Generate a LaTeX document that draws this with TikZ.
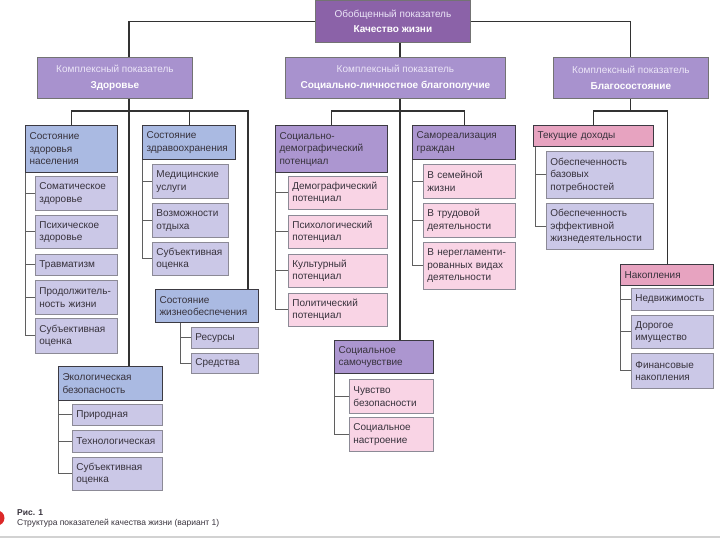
\documentclass[tikz,border=0pt]{standalone}
\usepackage{fontspec}
\setmainfont{Liberation Sans}
\usetikzlibrary{positioning}

\definecolor{topviolet}{RGB}{139,98,168}
\definecolor{headviolet}{RGB}{168,146,206}
\definecolor{headtxt}{RGB}{236,230,248}
\definecolor{catblue}{RGB}{170,186,226}
\definecolor{catviolet}{RGB}{172,150,208}
\definecolor{catpink}{RGB}{231,163,192}
\definecolor{lavitem}{RGB}{203,200,231}
\definecolor{pinkitem}{RGB}{249,212,229}
\definecolor{txtgray}{RGB}{55,50,60}
\definecolor{itemline}{RGB}{140,138,150}
\definecolor{catline}{RGB}{60,58,66}
\definecolor{treeline}{RGB}{50,50,50}
\definecolor{brline}{RGB}{95,95,95}
\definecolor{markred}{RGB}{220,40,40}

\begin{document}
\begin{tikzpicture}[x=1pt, y=-1pt,
    every node/.style={font=\fontsize{10}{12.5}\selectfont, text=txtgray},
    sz/.style 2 args={minimum width=#1pt, text width=#1pt-8pt, minimum height=#2pt},
    box/.style={rectangle, anchor=north west, inner xsep=4pt, inner ysep=1pt, align=left},
    item/.style={box, draw=itemline, line width=0.8pt, fill=lavitem},
    pitem/.style={item, fill=pinkitem},
    cat/.style={box, draw=catline, line width=1.1pt},
    head/.style={rectangle, anchor=north west, draw=black!55, line width=0.8pt,
      fill=headviolet, align=center, text=white, inner sep=1pt},
    tree/.style={draw=treeline, line width=1.1pt},
    br/.style={draw=brline, line width=0.9pt}]

    \useasboundingbox (0,0) rectangle (720,540);

    % Top level
    \node[head, fill=topviolet, minimum width=155pt, minimum height=42pt] (qol) at (315,0)
        {{\color{headtxt}Обобщенный показатель}\\[2pt]\textbf{Качество жизни}};

    % Complex indicators
    \node[head, minimum width=155pt, minimum height=41pt] (health) at (37,57)
        {{\color{headtxt}Комплексный показатель}\\[3pt]\textbf{Здоровье}};
    \node[head, minimum width=220pt, minimum height=41pt] (social) at (285,57)
        {{\color{headtxt}Комплексный показатель}\\[3pt]\textbf{Социально-личностное благополучие}};
    \node[head, minimum width=155pt, minimum height=41pt] (wealth) at (553,57)
        {{\color{headtxt}Комплексный показатель}\\[3pt]\textbf{Благосостояние}};

    % Health
    \node[cat, fill=catblue, sz={92}{47}] (pop) at (25,125) {Состояние\\здоровья\\населения};
    \node[item, sz={82}{34}] (som) at (35,176) {Соматическое\\здоровье};
    \node[item, sz={82}{33}] (psy) at (35,215) {Психическое\\здоровье};
    \node[item, sz={82}{21}] (tra) at (35,254) {Травматизм};
    \node[item, sz={82}{34}] (dur) at (35,280) {Продолжитель-\\ность жизни};
    \node[item, sz={82}{35}] (sub1) at (35,318) {Субъективная\\оценка};

    \node[cat, fill=catblue, sz={93}{34}] (hcare) at (142,125) {Состояние\\здравоохранения};
    \node[item, sz={76}{34}] (med) at (152,164) {Медицинские\\услуги};
    \node[item, sz={76}{34}] (rest) at (152,203) {Возможности\\отдыха};
    \node[item, sz={76}{33}] (sub2) at (152,242) {Субъективная\\оценка};

    \node[cat, fill=catblue, sz={103}{33}] (life) at (155,289) {Состояние\\жизнеобеспечения};
    \node[item, sz={67}{21}] (res) at (191,327) {Ресурсы};
    \node[item, sz={67}{20}] (mean) at (191,353) {Средства};

    \node[cat, fill=catblue, sz={104}{34}] (eco) at (58,366) {Экологическая\\безопасность};
    \node[item, sz={90}{21}] (nat) at (72,404) {Природная};
    \node[item, sz={90}{22}] (tech) at (72,430) {Технологическая};
    \node[item, sz={90}{33}] (sub3) at (72,457) {Субъективная\\оценка};

    % Social well-being
    \node[cat, fill=catviolet, sz={112}{47}] (sdem) at (275,125) {Социально-\\демографический\\потенциал};
    \node[pitem, sz={99}{33}] (dem) at (288,176) {Демографический\\потенциал};
    \node[pitem, sz={99}{33}] (psyp) at (288,215) {Психологический\\потенциал};
    \node[pitem, sz={99}{33}] (cult) at (288,254) {Культурный\\потенциал};
    \node[pitem, sz={99}{33}] (pol) at (288,293) {Политический\\потенциал};

    \node[cat, fill=catviolet, sz={103}{34}] (self) at (412,125) {Самореализация\\граждан};
    \node[pitem, sz={92}{34}] (fam) at (423,164) {В семейной\\жизни};
    \node[pitem, sz={92}{34}] (work) at (423,203) {В трудовой\\деятельности};
    \node[pitem, sz={92}{47}] (free) at (423,242) {В нерегламенти-\\рованных видах\\деятельности};

    \node[cat, fill=catviolet, sz={99}{33}] (feel) at (334,340) {Социальное\\самочувствие};
    \node[pitem, sz={84}{34}] (safe) at (349,379) {Чувство\\безопасности};
    \node[pitem, sz={84}{34}] (mood) at (349,417) {Социальное\\настроение};

    % Wealth
    \node[cat, fill=catpink, sz={120}{21}] (inc) at (533,125) {Текущие доходы};
    \node[item, sz={107}{47}] (base) at (546,151) {Обеспеченность\\базовых\\потребностей};
    \node[item, sz={107}{46}] (eff) at (546,203) {Обеспеченность\\эффективной\\жизнедеятельности};

    \node[cat, fill=catpink, sz={93}{21}] (acc) at (620,264) {Накопления};
    \node[item, sz={82}{22}] (prop) at (631,288) {Недвижимость};
    \node[item, sz={82}{33}] (goods) at (631,315) {Дорогое\\имущество};
    \node[item, sz={82}{35}] (fin) at (631,353) {Финансовые\\накопления};

    % Tree
    \coordinate (hj) at (129,111);
    \coordinate (lj) at (248,111);
    \coordinate (sj) at (400,111);
    \coordinate (wj) at (wealth.south |- hj);

    \draw[tree] (qol.west) -| (hj |- health.north);
    \draw[tree] (qol.east) -| (wealth.north);
    \draw[tree] (sj |- qol.south) -- (sj |- social.north);

    \draw[tree] (hj |- health.south) -- (hj |- eco.north);
    \draw[tree] (pop.north) |- (lj) -- (lj |- life.north);
    \draw[tree] (hcare.north) -- (hcare.north |- hj);

    \draw[tree] (sj |- social.south) -- (sj |- feel.north);
    \draw[tree] (sdem.north) |- (sj) -| (self.north);

    \draw[tree] (wealth.south) -- (wj);
    \draw[tree] (inc.north) |- (wj) -| (acc.north);

    % Branches to items
    \foreach \n in {som,psy,tra,dur,sub1} \draw[br] (pop.south west) |- (\n.west);
    \foreach \n in {med,rest,sub2} \draw[br] (hcare.south west) |- (\n.west);
    \foreach \n in {res,mean} \draw[br] ([xshift=25pt]life.south west) |- (\n.west);
    \foreach \n in {nat,tech,sub3} \draw[br] (eco.south west) |- (\n.west);
    \foreach \n in {dem,psyp,cult,pol} \draw[br] (sdem.south west) |- (\n.west);
    \foreach \n in {fam,work,free} \draw[br] (self.south west) |- (\n.west);
    \foreach \n in {safe,mood} \draw[br] (feel.south west) |- (\n.west);
    \foreach \n in {base,eff} \draw[br] ([xshift=2pt]inc.south west) |- (\n.west);
    \foreach \n in {prop,goods,fin} \draw[br] (acc.south west) |- (\n.west);

    % Caption
    \begin{scope}
        \clip (0,0) rectangle (720,540);
        \fill[markred] (-3,518) circle (7.5pt);
    \end{scope}
    \node[anchor=north west, align=left, inner sep=0pt,
        font=\fontsize{8.5}{10}\selectfont] (caption) at (17,509)
        {\textbf{Рис. 1}\\Структура показателей качества жизни (вариант 1)};
    \draw[gray!35, line width=1.5pt] (0,537) -- (720,537);
\end{tikzpicture}
\end{document}
